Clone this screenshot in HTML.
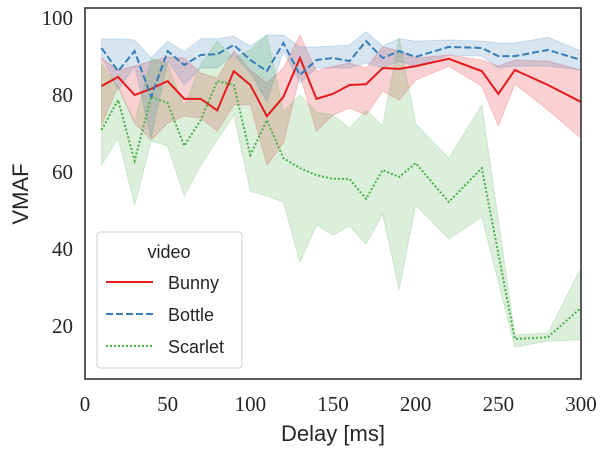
<!DOCTYPE html>
<html><head><meta charset="utf-8">
<style>
html,body{margin:0;padding:0;background:#fff;}
svg{display:block;}
.tick{font-family:"Liberation Serif",serif;font-size:21px;fill:#262626;}
.lab{font-family:"Liberation Sans",sans-serif;font-size:22px;fill:#262626;}
.leg{font-family:"Liberation Sans",sans-serif;font-size:18px;fill:#262626;}
</style></head>
<body>
<svg id="chart" width="608" height="453" xmlns="http://www.w3.org/2000/svg">
<g id="bands"></g>
<g id="lines"></g>
<rect x="85" y="8" width="496" height="371" fill="none" stroke="#333" stroke-width="1.6"/>
<g id="xticks"></g>
<g id="yticks"></g>
<text class="lab" x="333" y="441" text-anchor="middle">Delay [ms]</text>
<text class="lab" x="0" y="0" text-anchor="middle" transform="translate(28,194) rotate(-90)">VMAF</text>
<g>
<rect x="97" y="232" width="145" height="136" rx="3" fill="#fff" fill-opacity="0.85" stroke="#ccc"/>
<text class="leg" x="169" y="258" text-anchor="middle">video</text>
<line x1="106" y1="282" x2="153" y2="282" stroke="#e41a1c" stroke-width="2"/>
<text class="leg" x="168" y="289">Bunny</text>
<line x1="106" y1="314" x2="153" y2="314" stroke="#377eb8" stroke-width="2" stroke-dasharray="7,3"/>
<text class="leg" x="168" y="321">Bottle</text>
<line x1="106" y1="346" x2="153" y2="346" stroke="#4daf4a" stroke-width="2" stroke-dasharray="2,2"/>
<text class="leg" x="168" y="353">Scarlet</text>
</g>
</svg>
<script>
const xRB = [10,20,30,40,50,60,70,80,90,100,110,120,130,140,150,160,170,180,190,200,220,240,250,260,280,300];
const bunny = [82.3,84.7,80,81.6,83.6,79,79,76,86.2,82.6,74.5,79.5,89.6,79,80.3,82.6,82.8,87,86.8,87.5,89.4,86.2,80.3,86.5,82.6,78.2];
const bunnyHi = [89.6,86.5,87.5,88.8,89.9,89.6,85.7,84.4,91.4,86.5,83.1,87,95.6,86.2,87.5,88.3,87,92.5,91.4,89.6,90.4,89.1,87.5,89.1,88.8,86.5];
const bunnyLo = [72.2,82.3,72.7,68.3,72.7,74.5,74,70.6,77.4,77.4,61.8,67.5,85.2,70.6,74.8,76.6,74.8,81,78.7,83.9,87.5,82.3,71.9,82.9,76.1,68.8];
const bottle = [92.2,86.2,91.4,79.5,91.4,87.8,90.4,90.6,93,89.1,86.2,93.5,85.2,89.1,89.6,88.8,94,89.6,91.4,89.9,92.5,92.2,90.1,90.1,91.7,89.1];
const bottleHi = [94.5,94.6,94.3,89.6,94,91.2,94.6,94.6,95.3,92.7,95.6,95.6,92.5,92.5,92.7,93,96.4,92.7,94.6,94,94.3,94,93.5,93.5,95,91.4];
const bottleLo = [90.1,81.3,87.5,68.8,88.8,82.6,87,87,90.4,85.7,78.4,91.4,83.1,87,87,87,88.3,87,88.8,87.5,90.4,90.1,87,87.5,87.5,86.5];
const xS = [10,20,30,40,50,60,70,80,90,100,110,120,130,140,150,160,170,180,190,200,220,240,260,280,300];
const scarlet = [70.9,78.7,62.9,79.5,77.9,66.8,73.5,83.6,82.6,64.4,73.5,63.6,61,59.2,58.2,58.2,53,60.5,58.7,62.3,52.2,61,16.6,17.1,24.7];
const scarletHi = [88,82,73,89.6,88,77,88,94,89.6,91.7,95.6,75.8,80,75.6,74.8,71.4,76,72,94.8,72.5,63.6,77.4,17.7,18.2,35];
const scarletLo = [61.8,68.8,51.4,68,66.8,53.8,61.8,68.3,74.8,55,53.8,52.2,36.6,46.2,43.6,46,41.3,49.1,29.4,51.4,42.6,48.3,14.5,16.1,16.4];
const xTicks = [0,50,100,150,200,250,300];
const yTicks = [20,40,60,80,100];

const X = v => 85 + v * (496 / 300);
const Y = v => 403 - v * 3.85;
const NS = "http://www.w3.org/2000/svg";
const bands = document.getElementById('bands'), lines = document.getElementById('lines');

function band(xs, lo, hi, color, name) {
  let pts = xs.map((x,i)=>X(x)+','+Y(hi[i]));
  for (let i=xs.length-1;i>=0;i--) pts.push(X(xs[i])+','+Y(lo[i]));
  const p = document.createElementNS(NS,'polygon');
  p.setAttribute('points', pts.join(' '));
  p.setAttribute('fill', color); p.setAttribute('fill-opacity','0.2');
  p.setAttribute('stroke', color); p.setAttribute('stroke-opacity','0.2');
  
  
  bands.appendChild(p);
}
function line(xs, ys, color, dash, name) {
  const p = document.createElementNS(NS,'polyline');
  p.setAttribute('points', xs.map((x,i)=>X(x)+','+Y(ys[i])).join(' '));
  p.setAttribute('fill','none'); p.setAttribute('stroke',color); p.setAttribute('stroke-width','2');
  if (dash) p.setAttribute('stroke-dasharray', dash);
  
  
  lines.appendChild(p);
}
band(xRB, bunnyLo, bunnyHi, '#e41a1c', 'bunny-band');
band(xRB, bottleLo, bottleHi, '#377eb8', 'bottle-band');
band(xS, scarletLo, scarletHi, '#4daf4a', 'scarlet-band');
line(xRB, bunny, '#e41a1c', null, 'bunny-line');
line(xRB, bottle, '#377eb8', '7,3', 'bottle-line');
line(xS, scarlet, '#4daf4a', '2,2', 'scarlet-line');

const xt = document.getElementById('xticks');
xTicks.forEach(t=>{
  const e = document.createElementNS(NS,'text');
  e.setAttribute('class','tick'); e.setAttribute('x', X(t)); e.setAttribute('y', 411);
  e.setAttribute('text-anchor','middle'); e.textContent = t;
  
  
  xt.appendChild(e);
});
const yt = document.getElementById('yticks');
yTicks.forEach(t=>{
  const e = document.createElementNS(NS,'text');
  e.setAttribute('class','tick'); e.setAttribute('x', 73); e.setAttribute('y', Y(t)+7);
  e.setAttribute('text-anchor','end'); e.textContent = t;
  
  
  yt.appendChild(e);
});
</script>
</body></html>
